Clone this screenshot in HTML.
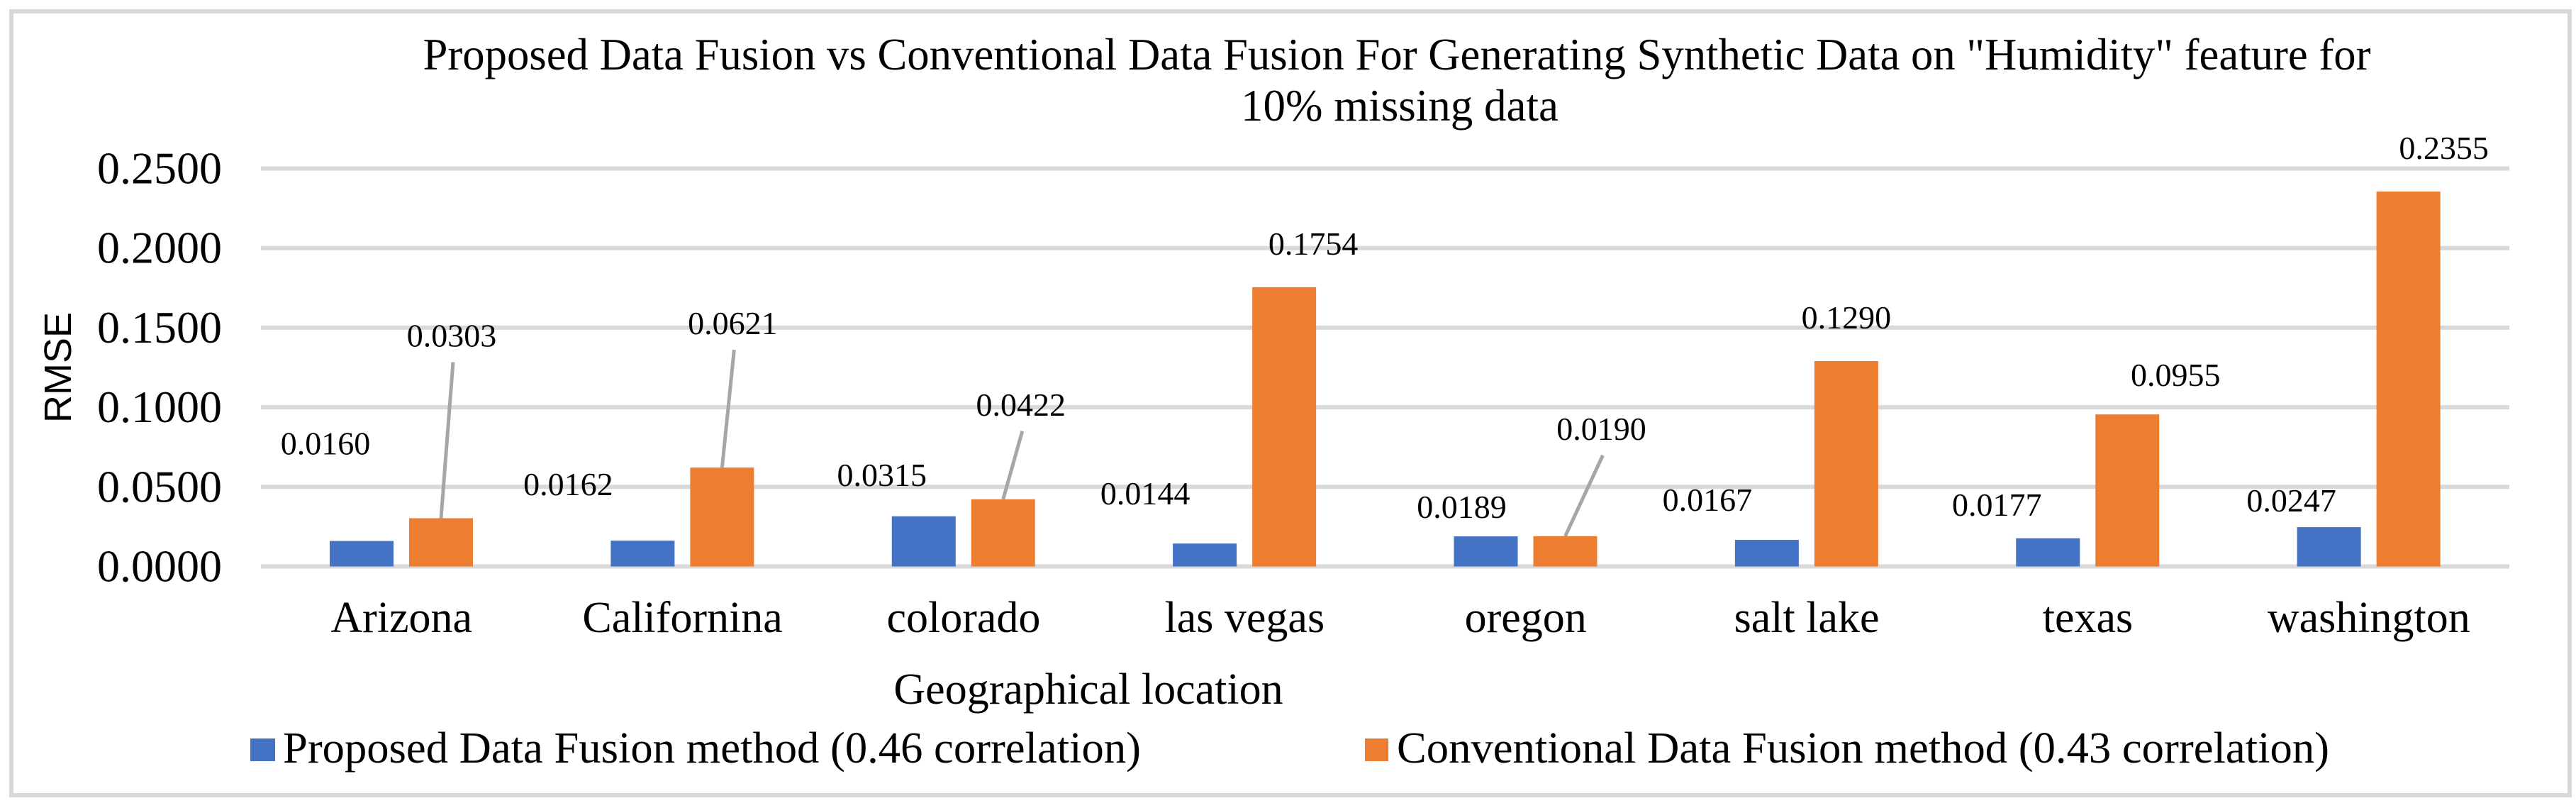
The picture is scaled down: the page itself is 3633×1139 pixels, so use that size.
<!DOCTYPE html>
<html><head><meta charset="utf-8"><style>
html,body{margin:0;padding:0;background:#fff;}
svg{display:block;}
text{font-family:"Liberation Serif","Times New Roman",serif;fill:#000;}
</style></head><body>
<svg id="chart" width="3633" height="1139" viewBox="0 0 3633 1139" xmlns="http://www.w3.org/2000/svg">
<rect x="16" y="16" width="3608" height="1105" fill="#fff" stroke="#d9d9d9" stroke-width="6"/>
<text x="1970" y="98" font-size="63" text-anchor="middle" textLength="2747" lengthAdjust="spacingAndGlyphs">Proposed Data Fusion vs Conventional Data Fusion For Generating Synthetic Data on "Humidity" feature for</text>
<text x="1974" y="170" font-size="63" text-anchor="middle">10% missing data</text>
<text transform="translate(100,518) rotate(-90)" font-size="54" text-anchor="middle" style="font-family:'Liberation Sans',sans-serif">RMSE</text>
<text x="1535" y="992" font-size="62" text-anchor="middle">Geographical location</text>
<g id="grid"></g><g id="bars"></g><g id="labels"></g>
<rect x="353" y="1041" width="35" height="32" fill="#4472c4"/>
<text x="399" y="1075" font-size="62" textLength="1210" lengthAdjust="spacingAndGlyphs">Proposed Data Fusion method (0.46 correlation)</text>
<rect x="1925" y="1041" width="33" height="32" fill="#ed7d31"/>
<text x="1970" y="1075" font-size="62" textLength="1315" lengthAdjust="spacingAndGlyphs">Conventional Data Fusion method (0.43 correlation)</text>
</svg>
<script>
const categories = ["Arizona","Californina","colorado","las vegas","oregon","salt lake","texas","washington"];
const proposed = [0.0160,0.0162,0.0315,0.0144,0.0189,0.0167,0.0177,0.0247];
const conventional = [0.0303,0.0621,0.0422,0.1754,0.0190,0.1290,0.0955,0.2355];
const yTicks = [0,0.05,0.10,0.15,0.20,0.25];
const yTickLabels = ["0.0000","0.0500","0.1000","0.1500","0.2000","0.2500"];
// label layout offsets (pixels, not data)
const blueLblDx = [-51,-105,-59,-84,-34,-84,-72,-53];
const blueLblDy = [122,64,43,55,26,41,32,22];
const orLblDx = [15,15,25,41,51,0,68,50];
const orLblDy = [242,188,118,46,136,46,40,46];
const orLeader = [true,true,true,false,true,false,false,false];

const NS="http://www.w3.org/2000/svg";
const X0=368, X1=3539, Y0=798.5, Y1=237.5, YMAX=0.25;
const bw=(X1-X0)/categories.length;
const y=v=>Y0-(v/YMAX)*(Y0-Y1);
const xCat=i=>X0+i*bw;
function mk(tag,attrs,parent){const e=document.createElementNS(NS,tag);for(const k in attrs)e.setAttribute(k,attrs[k]);document.getElementById(parent).appendChild(e);return e;}
yTicks.forEach((t,i)=>{
  const l=mk('line',{x1:X0,x2:X1,y1:y(t),y2:y(t),stroke:'#d9d9d9','stroke-width':6},'grid');
  
  
  const tx=mk('text',{x:313,y:y(t)+21,'font-size':64,'text-anchor':'end'},'grid');
  tx.textContent=yTickLabels[i];
  
  
});
categories.forEach((c,i)=>{
  const bx=xCat(i)+97, ox=xCat(i)+209, w=90;
  const b=mk('rect',{x:bx,y:y(proposed[i]),width:w,height:Y0-y(proposed[i]),fill:'#4472c4'},'bars');
  
  
  const o=mk('rect',{x:ox,y:y(conventional[i]),width:w,height:Y0-y(conventional[i]),fill:'#ed7d31'},'bars');
  
  
  const cl=mk('text',{x:xCat(i)+bw/2,y:891,'font-size':62,'text-anchor':'middle'},'labels');
  cl.textContent=c;
  
  
  const bc=bx+w/2, oc=ox+w/2;
  const bl=mk('text',{x:bc+blueLblDx[i],y:y(proposed[i])-blueLblDy[i],'font-size':46,'text-anchor':'middle'},'labels');
  bl.textContent=proposed[i].toFixed(4);
  
  
  const ly=y(conventional[i])-orLblDy[i];
  const ol=mk('text',{x:oc+orLblDx[i],y:ly,'font-size':46,'text-anchor':'middle'},'labels');
  ol.textContent=conventional[i].toFixed(4);
  
  
  if(orLeader[i]){
    const ln=mk('line',{x1:oc+orLblDx[i]+2,y1:ly+22,x2:oc,y2:y(conventional[i]),stroke:'#a6a6a6','stroke-width':5},'labels');
    
    
  }
});
</script>
</body></html>
